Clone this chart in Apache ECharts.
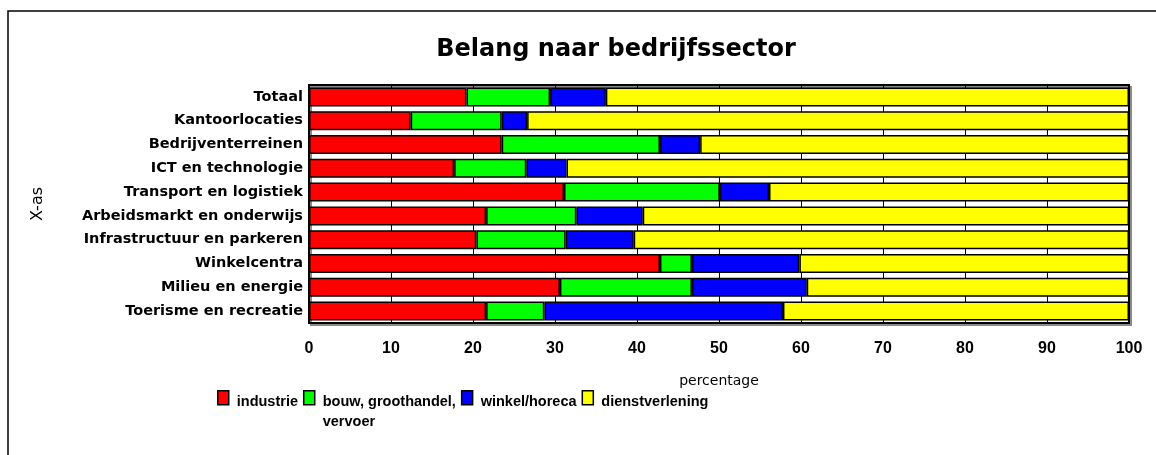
<!DOCTYPE html>
<html lang="nl">
<head>
    <meta charset="UTF-8">
    <script src="https://cdn.jsdelivr.net/npm/echarts@6/dist/echarts.min.js"></script>
    <style>
        * { margin: 0; padding: 0; }
        body { background: #fff; }
        #chart { width: 1156px; height: 455px; }
    </style>
</head>
<body>
<div id="chart"></div>
<script>
    // categories, top to bottom
    const sectors = ['Totaal', 'Kantoorlocaties', 'Bedrijventerreinen', 'ICT en technologie',
        'Transport en logistiek', 'Arbeidsmarkt en onderwijs', 'Infrastructuur en parkeren',
        'Winkelcentra', 'Milieu en energie', 'Toerisme en recreatie'];

    // percentages per group
    const industrie = [19.2, 12.4, 23.5, 17.7, 31.1, 21.6, 20.4, 42.8, 30.6, 21.6];
    const bouw = [10.2, 11.1, 19.3, 8.8, 19.0, 11.0, 10.9, 3.9, 16.1, 7.1];
    const winkel = [6.8, 3.1, 4.9, 4.9, 6.0, 8.1, 8.3, 13.1, 14.0, 29.1];
    const dienst = [63.8, 73.4, 52.3, 68.6, 43.9, 59.3, 60.4, 40.2, 39.3, 42.2];

    const groupNames = ['industrie', 'bouw, groothandel,\nvervoer', 'winkel/horeca', 'dienstverlening'];
    const groupColors = ['#ff0000', '#00ff00', '#0000ff', '#ffff00'];
    const groupValues = [industrie, bouw, winkel, dienst];

    const chart = echarts.init(document.getElementById('chart'));

    const option = {
        animation: false,
        title: {
            text: 'Belang naar bedrijfssector',
            left: 611,
            top: 33,
            textAlign: 'center',
            textStyle: {fontFamily: 'DejaVu Sans', fontWeight: 'bold', fontSize: 24, color: '#000'}
        },
        legend: {
            left: 217,
            top: 390,
            padding: 0,
            itemGap: 5,
            itemWidth: 11,
            itemHeight: 42,
            // box in the top part so it lines up with the first text line
            icon: 'path://M0,0L11,0L11,14L0,14Z M0,42',
            itemStyle: {borderColor: '#000', borderWidth: 1.5},
            formatter: name => name.indexOf('\n') >= 0 ? name : name + '\n ',
            textStyle: {
                fontFamily: 'Liberation Sans', fontWeight: 'bold', fontSize: 14.5,
                color: '#000', lineHeight: 20, padding: [0, 0, 0, 3]
            },
            data: groupNames
        },
        grid: {
            left: 309,
            right: 27,
            top: 85,
            bottom: 132,
            show: true,
            backgroundColor: '#fff',
            borderColor: '#000',
            borderWidth: 2,
            shadowColor: '#8a8a8a',
            shadowOffsetX: 2,
            shadowOffsetY: 2
        },
        xAxis: {
            type: 'value',
            min: 0,
            max: 100,
            interval: 10,
            name: 'percentage',
            nameLocation: 'middle',
            nameGap: 51,
            nameTextStyle: {fontFamily: 'DejaVu Sans', fontSize: 14, color: '#000'},
            axisLine: {show: false},
            axisTick: {show: false},
            axisLabel: {
                margin: 18,
                fontFamily: 'Liberation Sans', fontWeight: 'bold', fontSize: 16, color: '#000'
            },
            splitLine: {show: true, lineStyle: {color: '#000', width: 1}}
        },
        yAxis: {
            type: 'category',
            inverse: true,
            data: sectors,
            name: 'X-as',
            nameLocation: 'middle',
            nameRotate: 90,
            nameGap: 263,
            nameTextStyle: {fontFamily: 'DejaVu Sans', fontSize: 16, color: '#000'},
            axisLine: {show: false},
            axisTick: {show: false},
            axisLabel: {
                margin: 6,
                fontFamily: 'DejaVu Sans', fontWeight: 'bold', fontSize: 14.5, color: '#000'
            },
            splitLine: {show: false}
        },
        series: groupNames.map((name, i) => ({
            name,
            type: 'bar',
            stack: 'total',
            barCategoryGap: '20%',
            data: groupValues[i],
            itemStyle: {color: groupColors[i], borderColor: '#000', borderWidth: 1.5}
        })),
        graphic: [{
            type: 'rect',
            shape: {x: 8, y: 11, width: 1160, height: 460},
            style: {fill: 'none', stroke: '#000', lineWidth: 1.5},
            silent: true
        }]
    };

    chart.setOption(option);
</script>
</body>
</html>
